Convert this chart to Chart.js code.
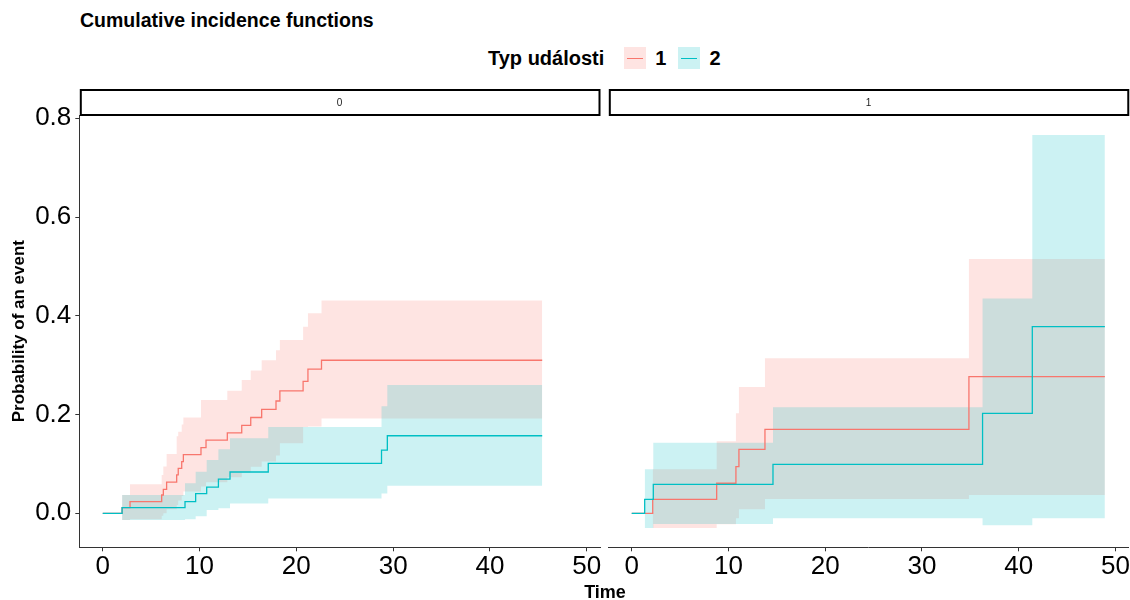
<!DOCTYPE html>
<html>
<head>
<meta charset="utf-8">
<script src="https://cdn.jsdelivr.net/npm/chart.js@4.4.0/dist/chart.umd.min.js"></script>
<style>
  html, body { margin: 0; padding: 0; background: #ffffff; }
  body { width: 1130px; height: 600px; position: relative; overflow: hidden;
         font-family: "Liberation Sans", Arial, sans-serif; color: #000; }
  canvas { position: absolute; top: 0; }
  #panel0 { left: 0; }
  #panel1 { left: 604px; }
  .plot-title { position: absolute; left: 80px; top: 9px; font-size: 19.5px; font-weight: bold; white-space: nowrap; }
  .legend { position: absolute; left: 488px; top: 47px; height: 22px; display: flex; align-items: center;
            font-size: 20px; font-weight: bold; white-space: nowrap; }
  .legend .key { width: 22px; height: 22px; position: relative; margin-right: 9px; }
  .legend .key.k0 { margin-left: 20px; }
  .legend .key.k1 { margin-left: 12px; }
  .legend .key i { position: absolute; left: 3px; right: 3px; top: 10.5px; height: 1.3px; }
  .x-title { position: absolute; left: 0; width: 1210px; top: 582px; text-align: center;
             font-size: 18px; font-weight: bold; }
</style>
</head>
<body>
<div class="plot-title">Cumulative incidence functions</div>
<div class="legend" id="legend"></div>
<canvas id="panel0" width="604" height="600"></canvas>
<canvas id="panel1" width="526" height="600"></canvas>
<div class="x-title">Time</div>

<script>
// ---- axes ----
const timeTicks = [0, 10, 20, 30, 40, 50];
const probTicks = [0, 0.2, 0.4, 0.6, 0.8];
const timeRange = [-2.42, 51.37];
const probRange = [-0.0689, 0.8067];

// ---- legend / facets ----
const legendTitle = 'Typ události';
const eventTypes = ['1', '2'];
const facetLabels = ['0', '1'];

// ---- facet 0, event type 1 ----
const f0e1Time  = [2.0, 2.82, 6.09, 6.26, 6.6, 7.64, 7.8, 8.16, 8.33, 10.15, 10.67, 12.87, 14.36, 15.29, 16.42, 17.9, 18.3, 20.7, 21.2, 22.6];
const f0e1Est   = [0.0114, 0.0235, 0.037, 0.0486, 0.063, 0.0776, 0.091, 0.1045, 0.119, 0.133, 0.148, 0.163, 0.178, 0.194, 0.2106, 0.2274, 0.248, 0.267, 0.292, 0.310];
const f0e1Lower = [-0.0136, -0.012, -0.005, 0.0, 0.008, 0.017, 0.026, 0.035, 0.044, 0.054, 0.063, 0.073, 0.083, 0.094, 0.105, 0.117, 0.142, 0.175, 0.176, 0.192];
const f0e1Upper = [0.037, 0.059, 0.0775, 0.095, 0.12, 0.156, 0.165, 0.18, 0.194, 0.2295, 0.2295, 0.248, 0.27, 0.289, 0.310, 0.330, 0.351, 0.378, 0.405, 0.431];
const f0e1End = 45.4;

// ---- facet 0, event type 2 ----
const f0e2Time  = [2.0, 8.5, 9.6, 10.74, 11.95, 13.15, 17.1, 28.8, 29.4];
const f0e2Est   = [0.0114, 0.0235, 0.040, 0.053, 0.069, 0.0836, 0.101, 0.128, 0.157];
const f0e2Lower = [-0.0136, -0.012, -0.006, 0.0067, 0.010, 0.020, 0.030, 0.040, 0.056];
const f0e2Upper = [0.037, 0.061, 0.084, 0.108, 0.1296, 0.152, 0.175, 0.217, 0.260];
const f0e2End = 45.4;

// ---- facet 1, event type 1 ----
const f1e1Time  = [2.17, 8.78, 10.77, 11.08, 13.77, 34.85];
const f1e1Est   = [0.0283, 0.0608, 0.0945, 0.1296, 0.170, 0.2767];
const f1e1Lower = [-0.030, -0.022, -0.010, 0.008, 0.029, 0.037];
const f1e1Upper = [0.089, 0.146, 0.2025, 0.256, 0.314, 0.515];
const f1e1End = 48.9;

// ---- facet 1, event type 2 ----
const f1e2Time  = [1.34, 2.23, 14.6, 36.26, 41.4];
const f1e2Est   = [0.0283, 0.0587, 0.099, 0.2025, 0.378];
const f1e2Lower = [-0.030, -0.0217, -0.010, -0.024, -0.010];
const f1e2Upper = [0.089, 0.143, 0.215, 0.435, 0.766];
const f1e2End = 48.9;

const lineColors = ['#F8766D', '#00BFC4'];
const bandColors = ['rgba(248,118,109,0.2)', 'rgba(0,191,196,0.2)'];

// step curve starting at the origin and held to the last follow-up time
function curvePoints(times, values, end) {
  const pts = [{ x: 0, y: 0 }];
  times.forEach((t, i) => pts.push({ x: t, y: values[i] }));
  pts.push({ x: end, y: values[values.length - 1] });
  return pts;
}
// confidence bound, present from the first event time on
function boundPoints(times, values, end) {
  const pts = times.map((t, i) => ({ x: t, y: values[i] }));
  pts.push({ x: end, y: values[values.length - 1] });
  return pts;
}

function curveSets(curves) {
  const sets = [];
  // bands: event 1 first, event 2 drawn over it
  curves.forEach((c, k) => {
    sets.push({
      label: 'upper ' + eventTypes[k], data: boundPoints(c.time, c.upper, c.end),
      stepped: 'before', borderWidth: 0, pointRadius: 0, backgroundColor: bandColors[k],
      borderColor: 'rgba(0,0,0,0)', fill: '+1', order: 10 - 2 * k
    });
    sets.push({
      label: 'lower ' + eventTypes[k], data: boundPoints(c.time, c.lower, c.end),
      stepped: 'before', borderWidth: 0, pointRadius: 0, borderColor: 'rgba(0,0,0,0)',
      fill: false, order: 9 - 2 * k
    });
  });
  curves.forEach((c, k) => {
    sets.push({
      label: eventTypes[k], data: curvePoints(c.time, c.est, c.end),
      stepped: 'before', borderWidth: 1.3, pointRadius: 0, borderColor: lineColors[k],
      fill: false, order: 2 - k
    });
  });
  return sets;
}

// facet strip: boxed label above the panel
const stripPlugin = {
  id: 'strip',
  afterDraw(chart, args, opts) {
    const { ctx, chartArea } = chart;
    ctx.save();
    ctx.strokeStyle = '#000';
    ctx.lineWidth = 2;
    ctx.strokeRect(chartArea.left + 1.5, 90, chartArea.right - chartArea.left - 2, 25);
    ctx.fillStyle = '#1a1a1a';
    ctx.font = '10px "Liberation Sans", Arial, sans-serif';
    ctx.textAlign = 'center';
    ctx.textBaseline = 'middle';
    ctx.fillText(opts.text, (chartArea.left + chartArea.right) / 2, 103);
    ctx.restore();
  }
};

const tickFont = { family: '"Liberation Sans", Arial, sans-serif', size: 26 };

function makePanel(canvasId, curves, facet, showY) {
  return new Chart(document.getElementById(canvasId), {
    type: 'line',
    data: { datasets: curveSets(curves) },
    plugins: [stripPlugin],
    options: {
      responsive: false,
      animation: false,
      events: [],
      layout: { padding: showY ? { left: 0, right: 4, top: 115, bottom: 0 }
                               : { left: 4.3, right: 1, top: 115, bottom: 0 } },
      plugins: {
        legend: { display: false },
        tooltip: { enabled: false },
        strip: { text: facet }
      },
      scales: {
        x: {
          type: 'linear', min: timeRange[0], max: timeRange[1],
          afterBuildTicks: s => { s.ticks = timeTicks.map(v => ({ value: v })); },
          afterFit: s => { s.height = 52.7; },
          grid: { display: true, drawOnChartArea: false, drawTicks: true, tickLength: 4, tickColor: '#333333' },
          border: { display: true, color: '#333333', width: 1 },
          ticks: { font: tickFont, color: '#000', padding: 0, maxRotation: 0, callback: v => String(v) }
        },
        y: {
          type: 'linear', display: showY, min: probRange[0], max: probRange[1],
          afterBuildTicks: s => { s.ticks = probTicks.map(v => ({ value: v })); },
          afterFit: s => { s.width = showY ? 79.3 : 0; },
          grid: { display: true, drawOnChartArea: false, drawTicks: true, tickLength: 4, tickColor: '#333333' },
          border: { display: true, color: '#333333', width: 1 },
          ticks: { font: tickFont, color: '#000', padding: 4, callback: v => v.toFixed(1) },
          title: { display: true, text: 'Probability of an event', color: '#000',
                   font: { family: '"Liberation Sans", Arial, sans-serif', size: 17, weight: 'bold' },
                   padding: { top: 9, bottom: 0 } }
        }
      }
    }
  });
}

makePanel('panel0', [
  { time: f0e1Time, est: f0e1Est, lower: f0e1Lower, upper: f0e1Upper, end: f0e1End },
  { time: f0e2Time, est: f0e2Est, lower: f0e2Lower, upper: f0e2Upper, end: f0e2End }
], facetLabels[0], true);

makePanel('panel1', [
  { time: f1e1Time, est: f1e1Est, lower: f1e1Lower, upper: f1e1Upper, end: f1e1End },
  { time: f1e2Time, est: f1e2Est, lower: f1e2Lower, upper: f1e2Upper, end: f1e2End }
], facetLabels[1], false);

// legend: filled key with the line colour across the middle
const legend = document.getElementById('legend');
const lt = document.createElement('span');
lt.textContent = legendTitle;
legend.appendChild(lt);
eventTypes.forEach((name, k) => {
  const key = document.createElement('span');
  key.className = 'key k' + k;
  key.style.background = bandColors[k];
  const bar = document.createElement('i');
  bar.style.background = lineColors[k];
  key.appendChild(bar);
  legend.appendChild(key);
  const txt = document.createElement('span');
  txt.textContent = name;
  legend.appendChild(txt);
});
</script>
</body>
</html>
